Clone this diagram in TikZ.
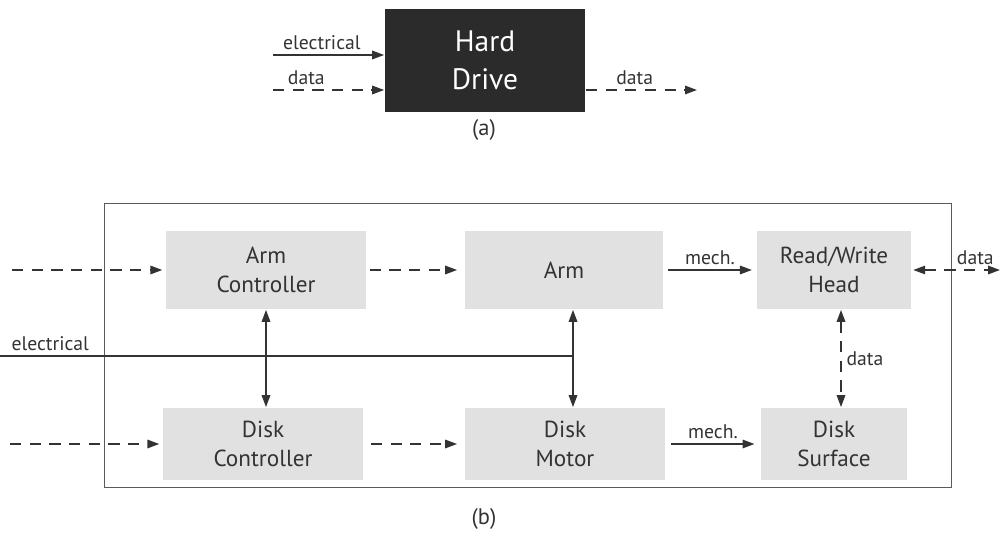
\documentclass[tikz,border=0pt]{standalone}
\usepackage{fontspec}
\setmainfont{PT Sans}
\usetikzlibrary{arrows.meta,positioning}
\definecolor{ink}{HTML}{333333}
\definecolor{boxgray}{HTML}{E1E1E1}
\definecolor{drivegray}{HTML}{2B2B2B}
\definecolor{framegray}{HTML}{5A5A5A}

\begin{document}
\begin{tikzpicture}[
	color=ink, line width=1.2pt,
	>={Triangle[length=8.5pt,width=6pt]},
	block/.style={fill=boxgray, minimum height=1.95cm, align=center, font=\fontsize{16.5}{20.5}\selectfont},
	flow/.style={dash pattern=on 8pt off 6pt},
	lbl/.style={font=\fontsize{14}{17}\selectfont},
	caption/.style={font=\fontsize{16}{19}\selectfont}
]
	\useasboundingbox (0,0) rectangle (25.05,13.3);
	% (a) the drive as one block
	\node[fill=drivegray, text=white, minimum width=5cm, minimum height=2.575cm, align=center, font=\fontsize{21}{27}\selectfont] (hd) at (12.125,11.79) {Hard\\Drive};
	\coordinate (elin) at (6.825,11.925);
	\coordinate (din) at (6.825,11.05);
	\coordinate (dout) at (17.425,11.05);
	\draw[->] (elin) -- node[lbl, above, pos=0.44] {electrical} (elin -| hd.west);
	\draw[flow,->] (din) -- node[lbl, above, pos=0.3] {data} (din -| hd.west);
	\draw[flow,->] (din -| hd.east) -- node[lbl, above, pos=0.44] {data} (dout);
	\node[caption] (capa) at (12.1,10.05) {(a)};

	% (b) inside the drive
	\draw[framegray, line width=0.7pt] (2.6,1.125) rectangle (23.775,8.225);
	\node[block, minimum width=5cm] (ac) at (6.65,6.55) {Arm\\Controller};
	\node[block, minimum width=4.95cm] (arm) at (14.1,6.55) {Arm};
	\node[block, minimum width=3.85cm] (rw) at (20.85,6.55) {Read/Write\\Head};
	\node[block, minimum width=5cm, minimum height=1.8cm] (dc) at (6.575,2.2) {Disk\\Controller};
	\node[block, minimum width=5cm, minimum height=1.8cm] (dm) at (14.125,2.2) {Disk\\Motor};
	\node[block, minimum width=3.65cm, minimum height=1.8cm] (ds) at (20.85,2.2) {Disk\\Surface};

	\coordinate (acin) at (0.3,6.55);
	\coordinate (dcin) at (0.25,2.2);
	\coordinate (rwout) at (25.0,6.55);
	\coordinate (ein) at (0,4.4);
	\coordinate (armdown) at ([xshift=0.225cm]arm.south);
	\coordinate (rwdown) at ([xshift=0.175cm]rw.south);

	\draw[flow,->, shorten >=2pt] (acin) -- (ac.west);
	\draw[flow,->, shorten >=2pt] (dcin) -- (dc.west);
	\draw[flow,->, shorten <=2pt, shorten >=5pt] (ac) -- (arm);
	\draw[flow,->, shorten <=5pt, shorten >=5pt] (dc) -- (dm);
	\draw[->, shorten <=3pt, shorten >=3pt] (arm) -- node[lbl, above] {mech.} (rw);
	\draw[->, shorten <=4pt, shorten >=4pt] (dm) -- node[lbl, above] {mech.} (ds);
	\draw[flow,<->, shorten <=1pt] (rw.east) -- node[lbl, above, pos=0.72] {data} (rwout);
	\draw[flow,<->] (rwdown) -- node[lbl, right] {data} (rwdown |- ds.north);

	\draw (ein) node[lbl, above right, xshift=0.15cm] (elabel) {electrical} -- (ein -| armdown);
	\draw[<->] (ac.south) -- (ac.south |- dc.north);
	\draw[<->] (armdown) -- (armdown |- dm.north);
	\node[caption] (capb) at (12.1,0.325) {(b)};
\end{tikzpicture}
\end{document}
